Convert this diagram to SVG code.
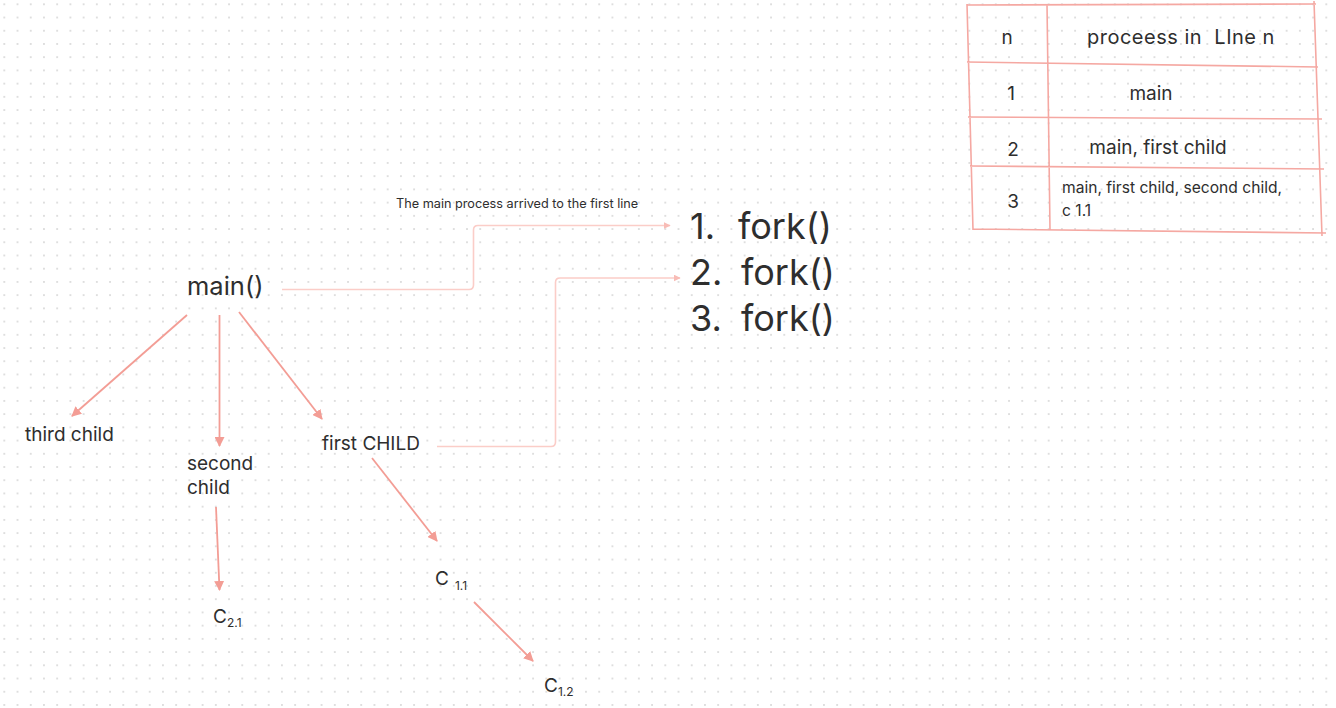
<svg xmlns="http://www.w3.org/2000/svg" width="1336" height="708" viewBox="0 0 1336 708">
<style>
text{font-family:Inter,"Noto Sans","Liberation Sans",sans-serif;fill:#2e2e2e}
.c{stroke:#f39d95;stroke-width:1.8;fill:none}
.o{stroke:#fbcdc8;stroke-width:1.6;fill:none}
.t{stroke:#f5a8a2;stroke-width:1.6;fill:none}
</style>
<defs>
<pattern id="dots" x="4.3" y="4.3" width="13.22" height="13.22" patternUnits="userSpaceOnUse">
<circle cx="0" cy="0" r="1" fill="#d6d6d6"/>
<circle cx="13.22" cy="0" r="1" fill="#d6d6d6"/>
<circle cx="0" cy="13.22" r="1" fill="#d6d6d6"/>
<circle cx="13.22" cy="13.22" r="1" fill="#d6d6d6"/>
</pattern>
<marker id="ah" viewBox="0 0 10 10" refX="9" refY="5" markerWidth="10" markerHeight="10" markerUnits="userSpaceOnUse" orient="auto">
<path d="M0,0 L10,5 L0,10 z" fill="#f39d95"/>
</marker>
<marker id="ahl" viewBox="0 0 10 10" refX="9" refY="5" markerWidth="7" markerHeight="7" markerUnits="userSpaceOnUse" orient="auto">
<path d="M0,0 L10,5 L0,10 z" fill="#f8bcb6"/>
</marker>
</defs>
<rect width="1336" height="708" fill="#ffffff"/>
<rect width="1336" height="708" fill="url(#dots)"/>

<g id="table">
<path class="t" d="M967,5 L1316,4 M967,62 L1318,67 M968,117 L1322,119 M970,166 L1324,169 M973,229 L1326,233 M967,4 L973,230 M1047,4 L1050,230 M1314,1 L1322,236"/>
<text x="1007" y="44" font-size="19" text-anchor="middle">n</text>
<text x="1087" y="44" font-size="20" letter-spacing="0.5" xml:space="preserve">proceess in  LIne n</text>
<text x="1011" y="100" font-size="19" text-anchor="middle">1</text>
<text x="1151" y="100" font-size="19" text-anchor="middle">main</text>
<text x="1013" y="156" font-size="19" text-anchor="middle">2</text>
<text x="1158" y="154" font-size="19" text-anchor="middle">main, first child</text>
<text x="1013" y="208" font-size="19" text-anchor="middle">3</text>
<text x="1062" y="193" font-size="15.6">main, first child, second child,</text>
<text x="1062" y="216" font-size="15.6">c 1.1</text>
</g>

<g id="connectors">
<path class="o" d="M282,289.5 H469 Q473.5,289.5 473.5,285 V230 Q473.5,225.5 478,225.5 H670" marker-end="url(#ahl)"/>
<path class="o" d="M437,446.5 H551 Q555.5,446.5 555.5,442 V282.5 Q555.5,278 560,278 H680" marker-end="url(#ahl)"/>
<line class="c" x1="187" y1="315" x2="72" y2="416" marker-end="url(#ah)"/>
<line class="c" x1="219.5" y1="315" x2="219.5" y2="446" marker-end="url(#ah)"/>
<line class="c" x1="239" y1="312" x2="322" y2="419" marker-end="url(#ah)"/>
<line class="c" x1="372" y1="458" x2="437" y2="541" marker-end="url(#ah)"/>
<line class="c" x1="216" y1="507" x2="219.5" y2="590" marker-end="url(#ah)"/>
<line class="c" x1="474" y1="602" x2="533" y2="661" marker-end="url(#ah)"/>
</g>

<g id="note"><text x="396" y="208" font-size="12.7">The main process arrived to the first line</text></g>
<g id="fork">
<text y="239" font-size="36"><tspan x="690">1.</tspan><tspan x="738">fork()</tspan></text>
<text y="285" font-size="36"><tspan x="690">2.</tspan><tspan x="741">fork()</tspan></text>
<text y="331" font-size="36"><tspan x="690">3.</tspan><tspan x="741">fork()</tspan></text>
</g>
<g id="main"><text x="187" y="295" font-size="25.5">main()</text></g>
<g id="third"><text x="25" y="441" font-size="19">third child</text></g>
<g id="second"><text x="187" y="470" font-size="19">second</text><text x="187" y="494" font-size="19">child</text></g>
<g id="first"><text x="322" y="450" font-size="19">first CHILD</text></g>
<g id="c11"><text x="435" y="585" font-size="19">C<tspan font-size="12" dx="6" dy="5">1.1</tspan></text></g>
<g id="c21"><text x="213" y="623" font-size="19">C<tspan font-size="12" dy="4">2.1</tspan></text></g>
<g id="c12"><text x="544" y="692" font-size="19">C<tspan font-size="12" dy="4">1.2</tspan></text></g>
</svg>
